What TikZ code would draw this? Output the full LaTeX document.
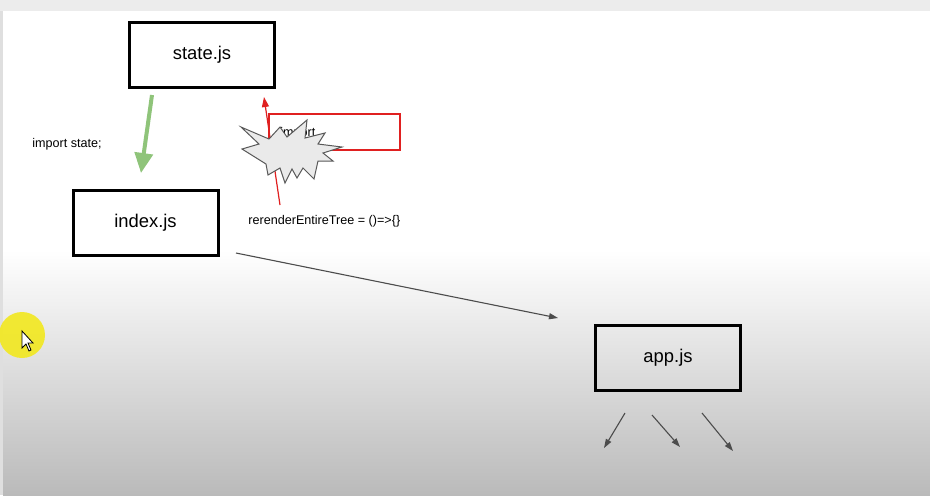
\documentclass[tikz,border=0pt]{standalone}
\usepackage{fontspec}
\setmainfont{Liberation Sans}
\usepackage{xcolor}
\usetikzlibrary{arrows.meta, positioning}

\definecolor{leafgreen}{HTML}{8FC47A}
\definecolor{slidered}{HTML}{E02020}
\definecolor{boomgray}{HTML}{EAEAEA}
\definecolor{marker}{HTML}{F2E81E}

\begin{document}
\begin{tikzpicture}[x=0.5pt, y=-0.5pt,
   file/.style={draw, line width=1.5pt, minimum width=72.5pt, minimum height=32.5pt,
     inner sep=0pt, font=\fontsize{9.2}{11}\selectfont},
   note/.style={inner sep=0pt, anchor=base west, font=\fontsize{6.3}{7.5}\selectfont},
   link/.style={draw=black!70, line width=0.55pt, -{Triangle[length=4.5pt, width=3pt]}}]
  % slide background
  \fill[gray!15] (0,0) rectangle (930,495);
  \fill[white] (3,11) rectangle (930,250);
  \shade[top color=white, bottom color=gray!54] (3,250) rectangle (930,495);
  \fill[gray!25] (0,11) rectangle (3,495);
  \useasboundingbox (0,0) rectangle (930,495);

  % pointer highlight
  \fill[marker, opacity=0.9] (22,335) circle[radius=11.5pt];
  \filldraw[fill=white, draw=black, line width=0.4pt]
    (22,331) -- (22,348) -- (26,344) -- (29,351) -- (31,350) -- (28,343) -- (33,343) -- cycle;

  \node[file] (state) at (202,55) {state.js};
  \node[file] (index) at (145.5,222.5) {index.js};
  \node[file] (app) at (668,357.5) {app.js};

  \node[note] (imp) at (32,147) {import state;};
  \node[note] (rerender) at (248,224) {rerenderEntireTree = ()=>\{\}};

  \coordinate (g1) at (152,95);
  \coordinate (g2) at (141,173);
  \draw[leafgreen, line width=2pt, -{Triangle[length=10pt, width=9pt]}] (g1) -- (g2);

  % red note, partly hidden
  \node[draw=slidered, line width=0.6pt, minimum width=65.5pt, minimum height=18pt,
    inner sep=0pt] (importbox) at (334.5,132) {};
  \node[note] (importtxt) at (280,136) {import};
  \coordinate (r1) at (280,205);
  \coordinate (r2) at (264,97);
  \draw[slidered, line width=0.6pt, -{Triangle[length=5pt, width=3.5pt]}] (r1) -- (r2);
  % the burst on top of it
  \filldraw[fill=boomgray, draw=black!65, line width=0.5pt, line join=miter]
    (241,127) -- (269,139) -- (280,127) -- (287,137) -- (307,120) -- (305,138)
    -- (325,133) -- (318,144) -- (342,147) -- (323,153) -- (333,161) -- (318,161)
    -- (314,179) -- (303,168) -- (297,178) -- (292,169) -- (285,183) -- (280,168)
    -- (268,175) -- (266,164) -- (242,149) -- (259,144) -- cycle;

  \coordinate (i1) at (236,253);
  \coordinate (a1) at (558,318);
  \draw[link] (i1) -- (a1);

  \coordinate (c1) at (625,413);
  \coordinate (c2) at (652,415);
  \coordinate (c3) at (702,413);
  \coordinate (d1) at (604,448);
  \coordinate (d2) at (680,447);
  \coordinate (d3) at (733,451);
  \draw[link] (c1) -- (d1);
  \draw[link] (c2) -- (d2);
  \draw[link] (c3) -- (d3);
\end{tikzpicture}
\end{document}
